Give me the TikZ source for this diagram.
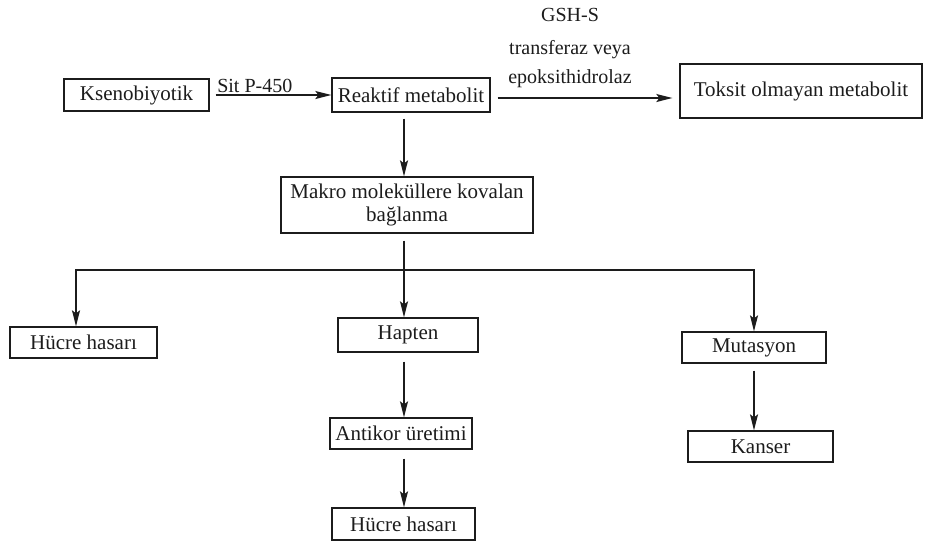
\documentclass[tikz,border=0pt]{standalone}
\usepackage{fontspec}
\setmainfont{Liberation Serif}
\usetikzlibrary{arrows.meta}
\definecolor{ink}{HTML}{1C1C1C}
\begin{document}
\begin{tikzpicture}[x=1pt,y=-1pt,
  box/.style={draw=ink, line width=1.3pt, inner sep=0pt, text=ink,
    font=\fontsize{21}{23}\selectfont, align=center},
  arr/.style={draw=ink, line width=1.3pt,
    -{Stealth[length=16pt,width=8pt,inset=3pt]}},
  ln/.style={draw=ink, line width=1.3pt},
  lab/.style={text=ink, inner sep=0pt, font=\fontsize{20}{22}\selectfont}]
\useasboundingbox (0,0) rectangle (925,542);
\fill[white] (0,0) rectangle (925,542);

% boxes
\node[box, minimum width=145pt, minimum height=32pt] (ks) at (136.5,95) {Ksenobiyotik};
\node[box, minimum width=158pt, minimum height=34pt] (re) at (411,95) {Reaktif metabolit};
\node[box, minimum width=242pt, minimum height=54pt] (to) at (801,91) {Toksit olmayan metabolit};
\node[box, minimum width=252pt, minimum height=56pt] (ma) at (407,205) {Makro moleküllere kovalan\\bağlanma};
\node[box, minimum width=147pt, minimum height=31pt] (h1) at (83.5,342.5) {Hücre hasarı};
\node[box, minimum width=140pt, minimum height=34pt] (hp) at (408,335) {Hapten};
\node[box, minimum width=144pt, minimum height=31pt] (mu) at (754,347.5) {Mutasyon};
\node[box, minimum width=142pt, minimum height=31pt] (an) at (401,433.5) {Antikor üretimi};
\node[box, minimum width=143pt, minimum height=32pt] (h2) at (403.5,524) {Hücre hasarı};
\node[box, minimum width=145pt, minimum height=31pt] (ka) at (760.5,446.5) {Kanser};

% enzyme labels
\node[lab] (g1) at (570,15) {GSH-S};
\node[lab] (g2) at (570,50) {transferaz veya};
\node[lab] (g3) at (570,79) {epoksithidrolaz};

% connectors
\draw[arr] ([xshift=6pt]ks.east) -- (re.west)
  node[pos=0, above right, lab, yshift=2pt, xshift=1pt] (sp) {Sit P-450};
\draw[arr, shorten >=7pt] ([xshift=7pt,yshift=-3pt]re.east) -- ([yshift=-3pt]re.east -| to.west);

\coordinate (j) at (404,270);
\draw[arr] ([yshift=-6pt]re.south -| j) -- (ma.north -| j);
\draw[arr] ([yshift=-7pt]ma.south -| j) -- (hp.north -| j);
\draw[arr] (j) -| ([xshift=-7.5pt]h1.north);
\draw[arr] (j) -| (mu.north);
\draw[arr] ([yshift=-9pt]hp.south -| j) -- (an.north -| j);
\draw[arr] ([yshift=-9pt]an.south -| j) -- (h2.north -| j);
\draw[arr] ([yshift=-7pt]mu.south) -- (ka.north -| mu.south);
\end{tikzpicture}
\end{document}
